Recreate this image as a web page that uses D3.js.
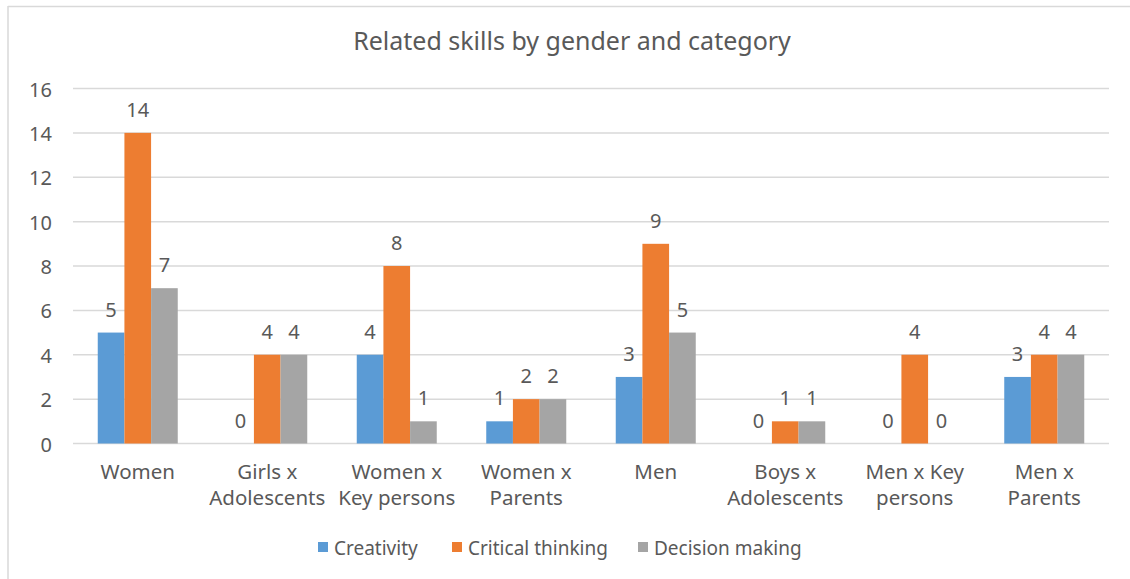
<!DOCTYPE html>
<html><head><meta charset="utf-8">
<script src="https://cdn.jsdelivr.net/npm/d3@7"></script>
<style>body{margin:0;background:#fff}svg{display:block}text{font-family:"Noto Sans","Open Sans",sans-serif;fill:#595959}</style>
</head><body>
<script>
const categories = [["Women"],["Girls x","Adolescents"],["Women x","Key persons"],["Women x","Parents"],["Men"],["Boys x","Adolescents"],["Men x Key","persons"],["Men x","Parents"]];
const seriesNames = ["Creativity","Critical thinking","Decision making"];
const creativity = [5,0,4,1,3,0,0,3];
const criticalThinking = [14,4,8,2,9,1,4,4];
const decisionMaking = [7,4,1,2,5,1,0,4];
const yTicks = [0,2,4,6,8,10,12,14,16];
const colors = ["#5B9BD5","#ED7D31","#A5A5A5"];
const title = "Related skills by gender and category";

(function(){
const W=1130,H=579;
const svg=d3.select("body").append("svg").attr("width",W).attr("height",H);
svg.append("line").attr("x1",8).attr("x2",W).attr("y1",6.5).attr("y2",6.5).attr("stroke","#d9d9d9").attr("stroke-width",1.5);
svg.append("line").attr("x1",8).attr("x2",8).attr("y1",6).attr("y2",H).attr("stroke","#d9d9d9").attr("stroke-width",1.5);

const pLeft=73,pRight=1109,pTop=88.5,pBottom=443.5;
const x=d3.scaleBand().domain(d3.range(categories.length)).range([pLeft,pRight]).paddingInner(0).paddingOuter(0);
const y=d3.scaleLinear().domain([0,16]).range([pBottom,pTop]);
const groupW=80;
const xs=d3.scaleBand().domain(d3.range(3)).range([0,groupW]);

svg.append("text").attr("x",572).attr("y",50).attr("text-anchor","middle").attr("font-size",25).text(title);

const grid=svg.append("g");
grid.selectAll("line").data(yTicks).join("line")
 .attr("x1",pLeft).attr("x2",pRight).attr("y1",d=>y(d)).attr("y2",d=>y(d))
 .attr("stroke","#d9d9d9").attr("stroke-width",1.5);

const yAxis=svg.append("g").attr("transform",`translate(${pLeft},0)`)
 .call(d3.axisLeft(y).tickValues(yTicks).tickSize(0).tickPadding(0));
yAxis.select(".domain").remove();
yAxis.selectAll("text").attr("x",-21).attr("dy","0.38em").attr("font-size",20).style("font-family","Noto Sans").attr("fill","#595959");

const series=[creativity,criticalThinking,decisionMaking];
series.forEach((vals,si)=>{
  const g=svg.append("g");
  g.selectAll("rect").data(vals).join("rect")
   .attr("x",(d,i)=>x(i)+x.bandwidth()/2-groupW/2+xs(si))
   .attr("width",xs.bandwidth())
   .attr("y",d=>y(d)).attr("height",d=>y(0)-y(d))
   .attr("fill",colors[si]);
  g.selectAll("text").data(vals).join("text")
   .attr("x",(d,i)=>x(i)+x.bandwidth()/2-groupW/2+xs(si)+xs.bandwidth()/2)
   .attr("y",d=>y(d)-16).attr("text-anchor","middle").attr("font-size",20).text(d=>d);
});

const xl=svg.append("g");
categories.forEach((c,i)=>{
  const t=xl.append("text").attr("x",x(i)+x.bandwidth()/2).attr("text-anchor","middle").attr("font-size",20.5);
  c.forEach((line,li)=>t.append("tspan").attr("x",x(i)+x.bandwidth()/2).attr("y",479+li*26).text(line));
});

const legX=[318,452,638];
const leg=svg.append("g");
seriesNames.forEach((n,i)=>{
  leg.append("rect").attr("x",legX[i]).attr("y",542).attr("width",10).attr("height",10).attr("fill",colors[i]);
  leg.append("text").attr("x",legX[i]+16).attr("y",555).attr("font-size",19).text(n);
});
})();
</script>
</body></html>
